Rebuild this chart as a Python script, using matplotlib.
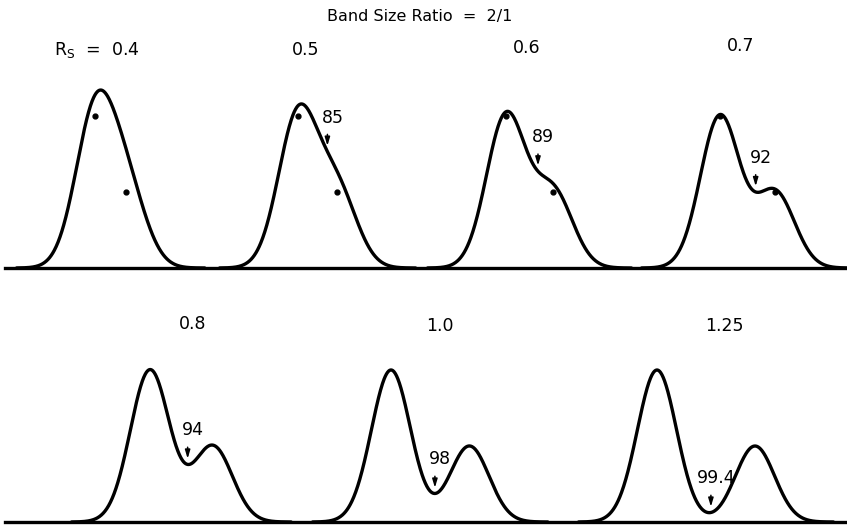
import numpy as np
import matplotlib.pyplot as plt

plt.rcParams['font.family'] = ['DejaVu Sans']
plt.rcParams['mathtext.fontset'] = 'dejavusans'

# data: resolution per panel, purity (%) at the valley, band size ratio 2/1
rs_top = [0.4, 0.5, 0.6, 0.7]
rs_bottom = [0.8, 1.0, 1.25]
purity_top = [None, "85", "89", "92"]
purity_bottom = ["94", "98", "99.4"]
rs_labels_top = [r"R$_{\rm S}$  =  0.4", "0.5", "0.6", "0.7"]
rs_labels_bottom = ["0.8", "1.0", "1.25"]
height_big, height_small = 2.0, 1.0

# layout (pixels)
W, H = 847, 526
sigma = 19.6
unit = 76.0
base_top, base_bottom = 268, 522
centers_top = [95, 298, 506, 720]
centers_bottom = [150, 391, 657]
arrow_frac_top = [None, 0.75, 0.68, 0.65]
arrow_frac_bottom = [0.6, 0.56, 0.55]
label_pos_top = [(97, 50), (306, 50), (527, 48), (741, 46)]
label_pos_bottom = [(193, 324), (440, 326), (724, 326)]

fig = plt.figure(figsize=(W / 100, H / 100), dpi=100)
ax = fig.add_axes([0, 0, 1, 1])
ax.set_xlim(0, W)
ax.set_ylim(H, 0)
ax.axis("off")


def band(x, c, h):
    return h * np.exp(-0.5 * ((x - c) / sigma) ** 2)


def draw_panel(c1, rs, base, purity, frac, dots):
    c2 = c1 + 4 * rs * sigma
    x = np.linspace(c1 - 4 * sigma, c2 + 4 * sigma, 600)
    y = band(x, c1, height_big) + band(x, c2, height_small)
    ax.plot(x, base - unit * y, color="black", lw=2.4, solid_capstyle="round")
    if dots:
        ax.plot([c1, c2], [base - unit * height_big, base - unit * height_small],
                "o", color="black", ms=3.5)
    if purity is not None:
        xa = c1 + frac * (c2 - c1)
        ya = base - unit * (band(xa, c1, height_big) + band(xa, c2, height_small))
        ax.annotate("", xy=(xa, ya - 3), xytext=(xa, ya - 20),
                    arrowprops=dict(arrowstyle="-|>,head_length=0.5,head_width=0.15",
                                    color="black", lw=1.1))
        ax.text(xa + 5, ya - 25, purity, ha="center", va="bottom", fontsize=12.5)


for i, rs in enumerate(rs_top):
    draw_panel(centers_top[i], rs, base_top, purity_top[i], arrow_frac_top[i], True)
    lx, ly = label_pos_top[i]
    ax.text(lx, ly, rs_labels_top[i], ha="center", va="center", fontsize=12.5)

for i, rs in enumerate(rs_bottom):
    draw_panel(centers_bottom[i], rs, base_bottom, purity_bottom[i], arrow_frac_bottom[i], False)
    lx, ly = label_pos_bottom[i]
    ax.text(lx, ly, rs_labels_bottom[i], ha="center", va="center", fontsize=12.5)

ax.plot([5, W], [base_top, base_top], color="black", lw=2.4)
ax.plot([5, W], [base_bottom, base_bottom], color="black", lw=2.4)

ax.text(420, 17, "Band Size Ratio  =  2/1", ha="center", va="center", fontsize=11.5)

fig.savefig("out.png", dpi=100)
